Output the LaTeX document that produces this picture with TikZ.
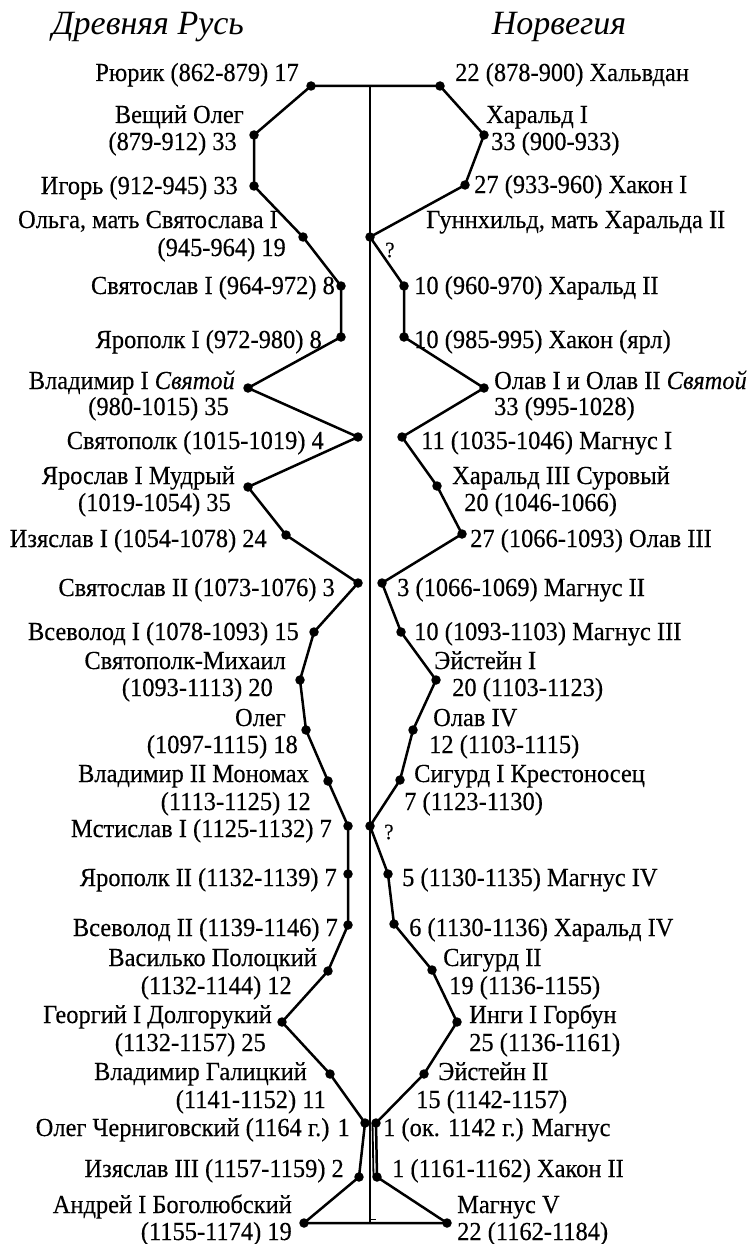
\documentclass[tikz,border=0pt]{standalone}
\usepackage{fontspec}
\setmainfont{Liberation Serif}[FakeStretch=0.94,FakeBold=0.3]
\newfontfamily\ttlfont{Liberation Serif}
\begin{document}
\begin{tikzpicture}[x=1pt,y=-1pt,
  lab/.style={inner sep=0pt,font=\fontsize{26}{28}\selectfont},
  labL/.style={lab,anchor=base east},
  labR/.style={lab,anchor=base west},
  qmark/.style={inner sep=0pt,font=\fontsize{22}{24}\selectfont},
  ttl/.style={inner sep=0pt,anchor=base,font=\ttlfont\fontsize{34}{38}\selectfont\itshape},
  dot/.style={circle,fill=black,inner sep=0pt,minimum size=9.5pt},
  chainline/.style={line width=2.5pt,line join=round},
  axisline/.style={line width=1.3pt}]
\useasboundingbox (0,0) rectangle (751,1244);
% titles
\node[ttl] (tRus) at (148,35) {Древняя Русь};
\node[ttl] (tNor) at (559,35) {Норвегия};
% central axis
\coordinate (axTop) at (370,86);
\coordinate (axBot) at (370,1223);
\coordinate (tickA) at (370,1219);
\coordinate (tickB) at (376,1219);
% left dots
\node[dot] (r1) at (311,86) {};
\node[dot] (r2) at (254,135) {};
\node[dot] (r3) at (254,186) {};
\node[dot] (r4) at (303,237) {};
\node[dot] (r5) at (341,286) {};
\node[dot] (r6) at (341,337) {};
\node[dot] (r7) at (248,388) {};
\node[dot] (r8) at (358,437) {};
\node[dot] (r9) at (248,487) {};
\node[dot] (r10) at (286,535) {};
\node[dot] (r11) at (358,583) {};
\node[dot] (r12) at (314,632) {};
\node[dot] (r13) at (300,680) {};
\node[dot] (r14) at (306,730) {};
\node[dot] (r15) at (328,781) {};
\node[dot] (r16) at (348,826) {};
\node[dot] (r17) at (348,874) {};
\node[dot] (r18) at (348,925) {};
\node[dot] (r19) at (328,971) {};
\node[dot] (r20) at (282,1022) {};
\node[dot] (r21) at (330,1074) {};
\node[dot] (r22) at (365,1123) {};
\node[dot] (r23) at (359,1177) {};
\node[dot] (r24) at (304,1223) {};
% right dots
\node[dot] (n1) at (440,86) {};
\node[dot] (n2) at (484,135) {};
\node[dot] (n3) at (465,185) {};
\node[dot] (n4) at (370,237) {};
\node[dot] (n5) at (404,286) {};
\node[dot] (n6) at (404,337) {};
\node[dot] (n7) at (484,388) {};
\node[dot] (n8) at (402,437) {};
\node[dot] (n9) at (437,486) {};
\node[dot] (n10) at (462,534) {};
\node[dot] (n11) at (382,583) {};
\node[dot] (n12) at (401,632) {};
\node[dot] (n13) at (436,680) {};
\node[dot] (n14) at (413,730) {};
\node[dot] (n15) at (400,780) {};
\node[dot] (n16) at (370,826) {};
\node[dot] (n17) at (388,874) {};
\node[dot] (n18) at (394,924) {};
\node[dot] (n19) at (432,970) {};
\node[dot] (n20) at (457,1022) {};
\node[dot] (n21) at (424,1074) {};
\node[dot] (n22) at (376,1123) {};
\node[dot] (n23) at (377,1177) {};
\node[dot] (n24) at (447,1223) {};
% axis
\draw[axisline] (axTop) -- (axBot);
\draw[line width=1pt] (tickA) -- (tickB);
% chains
\draw[chainline] (n1.center) -- (r1.center) -- (r2.center) -- (r3.center) -- (r4.center) -- (r5.center) -- (r6.center) -- (r7.center) -- (r8.center) -- (r9.center) -- (r10.center) -- (r11.center) -- (r12.center) -- (r13.center) -- (r14.center) -- (r15.center) -- (r16.center) -- (r17.center) -- (r18.center) -- (r19.center) -- (r20.center) -- (r21.center) -- (r22.center) -- (r23.center) -- (r24.center) -- (n24.center);
\draw[chainline] (n1.center) -- (n2.center) -- (n3.center) -- (n4.center) -- (n5.center) -- (n6.center) -- (n7.center) -- (n8.center) -- (n9.center) -- (n10.center) -- (n11.center) -- (n12.center) -- (n13.center) -- (n14.center) -- (n15.center) -- (n16.center) -- (n17.center) -- (n18.center) -- (n19.center) -- (n20.center) -- (n21.center) -- (n22.center) -- (n23.center) -- (n24.center);
\draw[line width=1.8pt] ([xshift=-3.5pt]n22.center) -- ([xshift=-3.5pt]n23.center);
% left labels
\node[labL] (l1) at (299,81) {Рюрик (862-879) 17};
\node[labL] (l2a) at (244,123) {Вещий Олег};
\node[labL] (l2b) at (237,150) {(879-912) 33};
\node[labL] (l3) at (238,194) {Игорь (912-945) 33};
\node[labL] (l4a) at (278,228) {Ольга, мать Святослава I};
\node[labL] (l4b) at (286,256) {(945-964) 19};
\node[labL] (l5) at (335,294) {Святослав I (964-972) 8};
\node[labL] (l6) at (322,348) {Ярополк I (972-980) 8};
\node[labL] (l7a) at (235,389) {Владимир I \textit{Святой}};
\node[labL] (l7b) at (229,415) {(980-1015) 35};
\node[labL] (l8) at (324,449) {Святополк (1015-1019) 4};
\node[labL] (l9a) at (235,484) {Ярослав I Мудрый};
\node[labL] (l9b) at (231,511) {(1019-1054) 35};
\node[labL] (l10) at (267,547) {Изяслав I (1054-1078) 24};
\node[labL] (l11) at (335,596) {Святослав II (1073-1076) 3};
\node[labL] (l12) at (299,640) {Всеволод I (1078-1093) 15};
\node[labL] (l13a) at (286,669) {Святополк-Михаил};
\node[labL] (l13b) at (273,696) {(1093-1113) 20};
\node[labL] (l14a) at (286,726) {Олег};
\node[labL] (l14b) at (298,753) {(1097-1115) 18};
\node[labL] (l15a) at (309,782) {Владимир II Мономах};
\node[labL] (l15b) at (311,810) {(1113-1125) 12};
\node[labL] (l16) at (332,837) {Мстислав I (1125-1132) 7};
\node[labL] (l17) at (337,886) {Ярополк II (1132-1139) 7};
\node[labL] (l18) at (338,936) {Всеволод II (1139-1146) 7};
\node[labL] (l19a) at (317,966) {Василько Полоцкий};
\node[labL] (l19b) at (292,994) {(1132-1144) 12};
\node[labL] (l20a) at (272,1023) {Георгий I Долгорукий};
\node[labL] (l20b) at (266,1051) {(1132-1157) 25};
\node[labL] (l21a) at (307,1080) {Владимир Галицкий};
\node[labL] (l21b) at (326,1108) {(1141-1152) 11};
\node[labL] (l22) at (350,1136) {Олег Черниговский (1164 г.) 1};
\node[labL] (l23) at (344,1177) {Изяслав III (1157-1159) 2};
\node[labL] (l24a) at (292,1213) {Андрей I Боголюбский};
\node[labL] (l24b) at (292,1240) {(1155-1174) 19};
% right labels
\node[labR] (m1) at (455,81) {22 (878-900) Хальвдан};
\node[labR] (m2a) at (486,123) {Харальд I};
\node[labR] (m2b) at (491,150) {33 (900-933)};
\node[labR] (m3) at (474,193) {27 (933-960) Хакон I};
\node[labR] (m4) at (426,228) {Гуннхильд, мать Харальда II};
\node[qmark] (q1) at (390,250) {?};
\node[labR] (m5) at (414,294) {10 (960-970) Харальд II};
\node[labR] (m6) at (414,348) {10 (985-995) Хакон (ярл)};
\node[labR] (m7a) at (494,389) {Олав I и Олав II \textit{Святой}};
\node[labR] (m7b) at (494,415) {33 (995-1028)};
\node[labR] (m8) at (421,449) {11 (1035-1046) Магнус I};
\node[labR] (m9a) at (452,484) {Харальд III Суровый};
\node[labR] (m9b) at (464,511) {20 (1046-1066)};
\node[labR] (m10) at (470,547) {27 (1066-1093) Олав III};
\node[labR] (m11) at (397,596) {3 (1066-1069) Магнус II};
\node[labR] (m12) at (414,640) {10 (1093-1103) Магнус III};
\node[labR] (m13a) at (434,669) {Эйстейн I};
\node[labR] (m13b) at (452,696) {20 (1103-1123)};
\node[labR] (m14a) at (433,726) {Олав IV};
\node[labR] (m14b) at (429,753) {12 (1103-1115)};
\node[labR] (m15a) at (414,782) {Сигурд I Крестоносец};
\node[labR] (m15b) at (404,810) {7 (1123-1130)};
\node[qmark] (q2) at (389,832) {?};
\node[labR] (m17) at (402,886) {5 (1130-1135) Магнус IV};
\node[labR] (m18) at (409,936) {6 (1130-1136) Харальд IV};
\node[labR] (m19a) at (443,966) {Сигурд II};
\node[labR] (m19b) at (449,994) {19 (1136-1155)};
\node[labR] (m20a) at (469,1023) {Инги I Горбун};
\node[labR] (m20b) at (469,1051) {25 (1136-1161)};
\node[labR] (m21a) at (438,1080) {Эйстейн II};
\node[labR] (m21b) at (416,1108) {15 (1142-1157)};
\node[labR] (m22) at (383,1136) {1 (ок. 1142 г.) Магнус};
\node[labR] (m23) at (392,1177) {1 (1161-1162) Хакон II};
\node[labR] (m24a) at (457,1213) {Магнус V};
\node[labR] (m24b) at (457,1240) {22 (1162-1184)};
\end{tikzpicture}
\end{document}
